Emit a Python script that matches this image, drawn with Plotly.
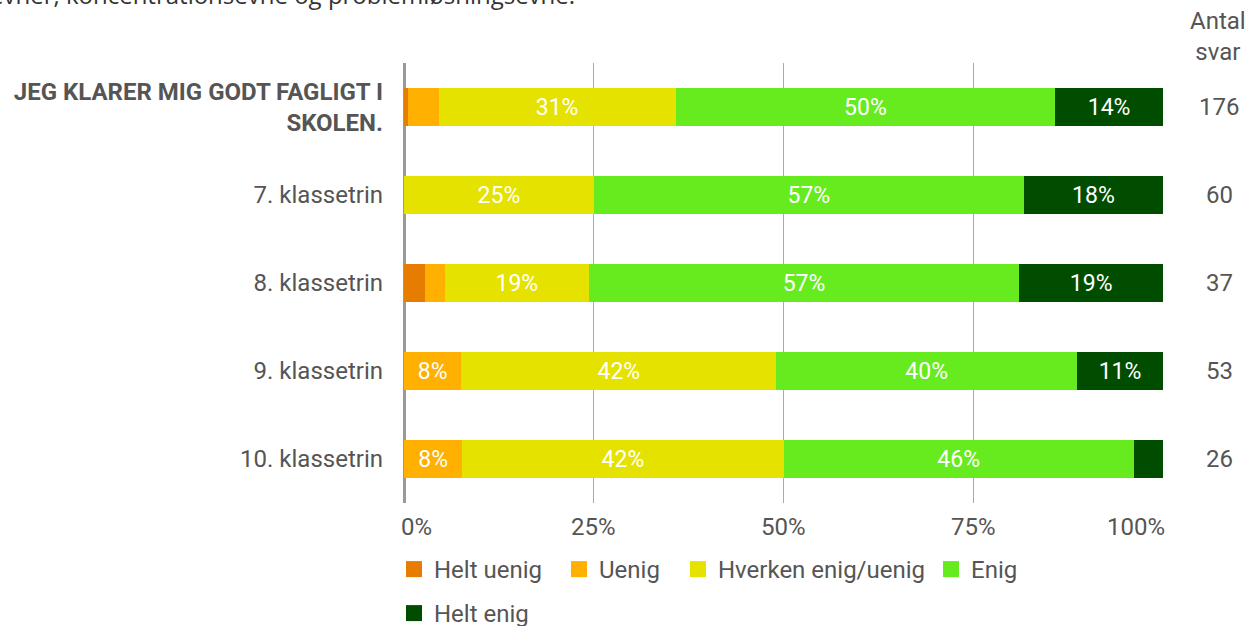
import plotly.graph_objects as go

categories = ["JEG KLARER MIG GODT FAGLIGT I<br>SKOLEN.", "7. klassetrin", "8. klassetrin", "9. klassetrin", "10. klassetrin"]
cat_ticktext = ["<b>JEG KLARER MIG GODT FAGLIGT I<br>SKOLEN.</b>", "7. klassetrin", "8. klassetrin", "9. klassetrin", "10. klassetrin"]
antal_svar = [176, 60, 37, 53, 26]

series_names = ["Helt uenig", "Uenig", "Hverken enig/uenig", "Enig", "Helt enig"]
helt_uenig = [1, 0, 1, 0, 0]
uenig = [7, 0, 1, 4, 2]
hverken = [55, 15, 7, 22, 11]
enig = [88, 34, 21, 21, 12]
helt_enig = [25, 11, 7, 6, 1]
series_counts = [helt_uenig, uenig, hverken, enig, helt_enig]
colors = ["#E67C00", "#FFB000", "#E6E200", "#66EB1E", "#004D00"]

x_ticks = [0, 25, 50, 75, 100]
x_tick_labels = ["0%", "25%", "50%", "75%", "100%"]

FONT = "Roboto"
TXT = "#555555"
FS = 24

L, R, T, B = 404, 84, 63, 123
W, H = 1247, 626
pw, ph = W - L - R, H - T - B

def px_x(px):
    return (px - L) / pw

def px_y(py):
    return (H - B - py) / ph

fig = go.Figure()
for name, counts, col in zip(series_names, series_counts, colors):
    pct = [c / n * 100 for c, n in zip(counts, antal_svar)]
    labels = [f"{round(p)}%" if p >= 5 else "" for p in pct]
    fig.add_trace(go.Bar(
        name=name, y=categories, x=pct, orientation="h",
        marker=dict(color=col, line=dict(width=0)),
        text=labels, textposition="inside", insidetextanchor="middle",
        textangle=0, textfont=dict(color="white", size=23, family=FONT),
        hoverinfo="skip", showlegend=False,
    ))

# legend-only entries, each in its own legend box for exact placement
legend_pos = [(404, 570), (569, 570), (688, 570), (941, 570), (404, 614)]
legend_layout = {}
for i, (name, col) in enumerate(zip(series_names, colors)):
    key = "legend" if i == 0 else f"legend{i + 1}"
    fig.add_trace(go.Scatter(
        name=name, x=[None], y=[None], mode="markers",
        marker=dict(symbol="square", size=16, color=col),
        legend=key, hoverinfo="skip",
    ))
    lx, ly = legend_pos[i]
    legend_layout[key] = dict(orientation="h", x=px_x(lx - 10), y=px_y(ly - 23),
                              xanchor="left", yanchor="top", bgcolor="rgba(0,0,0,0)",
                              font=dict(size=FS, color=TXT, family=FONT), itemsizing="trace")

annotations = []
for cat, n in zip(categories, antal_svar):
    annotations.append(dict(x=px_x(1219), y=cat, xref="paper", yref="y", text=str(n),
                            showarrow=False, font=dict(size=FS, color=TXT, family=FONT),
                            xanchor="center", yanchor="middle"))
annotations.append(dict(x=px_x(1218), y=px_y(36), xref="paper", yref="paper", text="Antal<br>svar",
                        showarrow=False, font=dict(size=FS, color=TXT, family=FONT),
                        xanchor="center", yanchor="middle"))
annotations.append(dict(x=px_x(577), y=px_y(-6), xref="paper", yref="paper",
                        text="evner, koncentrationsevne og problemløsningsevne.",
                        showarrow=False, font=dict(size=24, color="#333333", family="Open Sans"),
                        xanchor="right", yanchor="middle"))
# x tick labels (end labels kept inside the axis span)
for i, (v, t) in enumerate(zip(x_ticks, x_tick_labels)):
    if i == 0:
        anchor, shift = "left", -5
    elif i == len(x_ticks) - 1:
        anchor, shift = "right", 4
    else:
        anchor, shift = "center", 0
    annotations.append(dict(x=v, y=px_y(527), xref="x", yref="paper", text=t, showarrow=False,
                            xanchor=anchor, xshift=shift, yanchor="middle",
                            font=dict(size=FS, color=TXT, family=FONT)))

fig.update_layout(
    barmode="stack",
    bargap=0.57,
    width=W, height=H,
    margin=dict(l=L, r=R, t=T, b=B, autoexpand=False),
    plot_bgcolor="white", paper_bgcolor="white",
    font=dict(family=FONT, size=FS, color=TXT),
    xaxis=dict(range=[0, 100], tickvals=x_ticks, showticklabels=False, showgrid=True,
               gridcolor="#AAAAAA", gridwidth=1, zeroline=True, zerolinecolor="#999999",
               zerolinewidth=3, ticks="", fixedrange=True),
    yaxis=dict(autorange="reversed", tickvals=categories, ticktext=cat_ticktext,
               tickfont=dict(size=FS, color=TXT, family=FONT), ticks="",
               ticklabelstandoff=20, showgrid=False, fixedrange=True),
    annotations=annotations,
    showlegend=True,
    **legend_layout,
)

fig.write_html("out.html", config={"displayModeBar": False},
               post_script="document.body.style.margin='0';")
